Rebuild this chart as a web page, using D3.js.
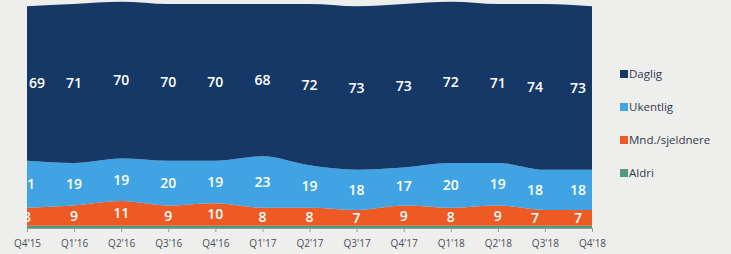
<!DOCTYPE html>
<html><head><meta charset="utf-8">
<script src="https://cdn.jsdelivr.net/npm/d3@7"></script>
<style>
html,body{margin:0;padding:0;background:#eeeeec;}
svg{display:block;}
</style></head>
<body>
<svg id="chart" width="731" height="254"></svg>
<script>
const categories = ["Q4'15","Q1'16","Q2'16","Q3'16","Q4'16","Q1'17","Q2'17","Q3'17","Q4'17","Q1'18","Q2'18","Q3'18","Q4'18"];
const aldri     = [1, 1, 1, 1, 1, 1, 1, 1, 1, 1, 1, 1, 1];
const mnd       = [8, 9, 11, 9, 10, 8, 8, 7, 9, 8, 9, 7, 7];
const ukentlig  = [21, 19, 19, 20, 19, 23, 19, 18, 17, 20, 19, 18, 18];
const daglig    = [69, 71, 70, 70, 70, 68, 72, 73, 73, 72, 71, 74, 73];
const seriesNames = ["Aldri","Mnd./sjeldnere","Ukentlig","Daglig"];
const seriesColors = ["#4f9a80","#ee5a24","#3fa3e4","#163866"];

const svg = d3.select("#chart");
const x0 = 27, x1 = 592, yTop = 4, yBot = 228;
const x = d3.scalePoint().domain(categories).range([x0, x1]);
const y = d3.scaleLinear().domain([0, 100]).range([yBot, yTop]);

const rows = categories.map((c, i) => ({cat: c, "Aldri": aldri[i], "Mnd./sjeldnere": mnd[i], "Ukentlig": ukentlig[i], "Daglig": daglig[i]}));
const stack = d3.stack().keys(seriesNames)(rows);

const area = d3.area()
  .x(d => x(d.data.cat))
  .y0(d => y(d[0]))
  .y1(d => y(d[1]))
  .curve(d3.curveMonotoneX);

svg.append("g").selectAll("path").data(stack).join("path")
  .attr("d", area)
  .attr("fill", (d, i) => seriesColors[i]);

// axis
const axis = d3.axisBottom(x).tickSize(4).tickPadding(8);
const ax = svg.append("g").attr("transform", `translate(0,${yBot})`).call(axis);
ax.select(".domain").attr("stroke", "#9a9a9a").attr("d", `M${x0},0.5H${x1}`);
ax.selectAll(".tick line").attr("stroke", "#9a9a9a");
ax.selectAll(".tick text").attr("fill", "#4a4f5a").style("font-family", "Open Sans, sans-serif").style("font-size", "10px");

// labels
svg.append("defs").append("clipPath").attr("id", "plotclip")
  .append("rect").attr("x", x0).attr("y", 0).attr("width", x1 - x0).attr("height", yBot);
const lg = svg.append("g").attr("clip-path", "url(#plotclip)");
stack.forEach((s, si) => {
  if (si === 0) return;
  s.forEach((d, i) => {
    let cx = x(d.data.cat);
    if (i === categories.length - 1) cx -= 14;
    if (i === categories.length - 2) cx -= 10;
    let anchor = "middle";
    if (si === 3 && i === 0) { cx += 2; anchor = "start"; }
    lg.append("text")
      .attr("x", cx)
      .attr("y", y((d[0] + d[1]) / 2))
      .attr("dy", "0.35em")
      .attr("text-anchor", anchor)
      .attr("fill", "#fff")
      .style("font-family", "Open Sans, sans-serif")
      .style("font-size", "14px")
      .style("font-weight", "600")
      .text(d[1] - d[0]);
  });
});

// legend
const legendOrder = [3, 2, 1, 0];
const leg = svg.append("g");
legendOrder.forEach((si, k) => {
  const ly = 74 + k * 33;
  leg.append("rect").attr("x", 620).attr("y", ly - 4).attr("width", 8).attr("height", 8).attr("fill", seriesColors[si]);
  leg.append("text").attr("x", 629).attr("y", ly).attr("dy", "0.35em")
    .attr("fill", "#2f3a4f").style("font-family", "Open Sans, sans-serif").style("font-size", "11.5px")
    .text(seriesNames[si]);
});
</script>
</body></html>
